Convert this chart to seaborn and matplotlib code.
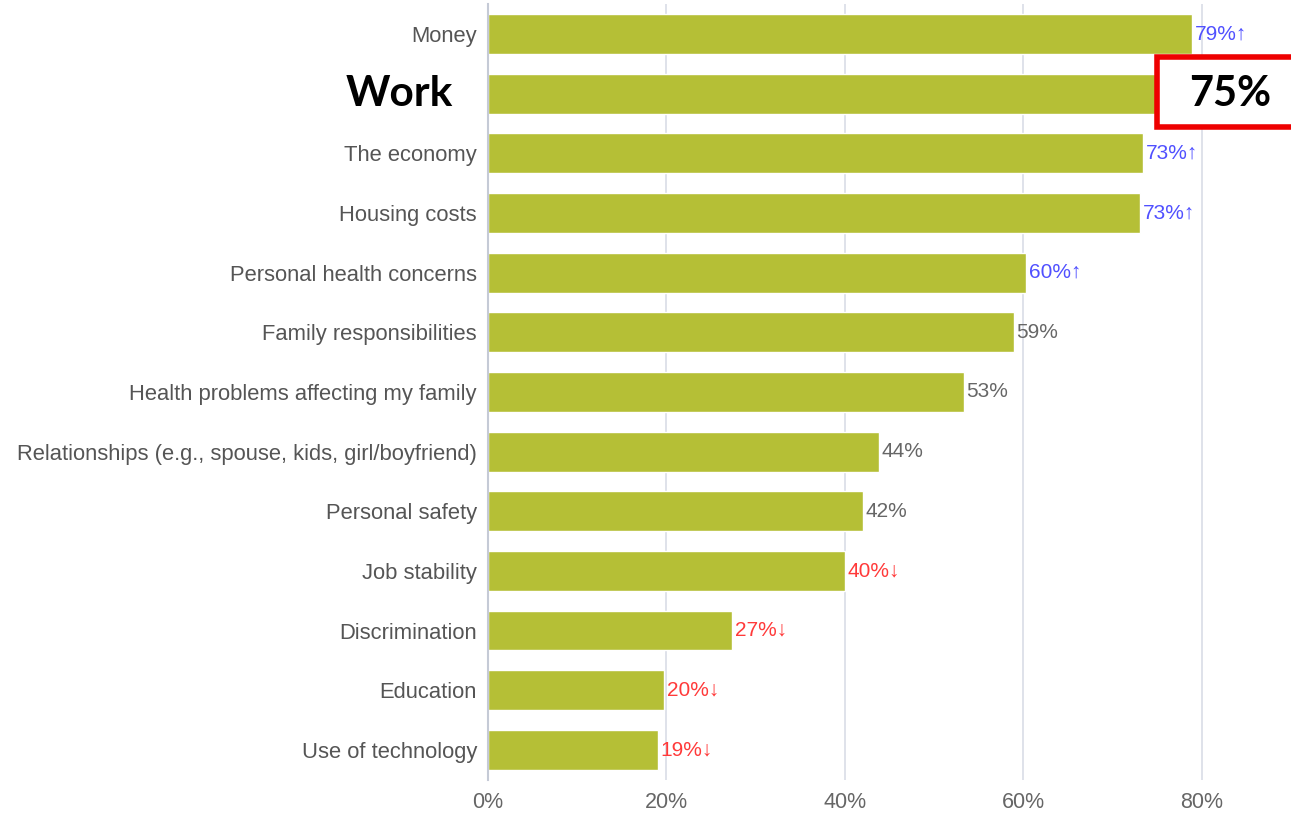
import matplotlib
matplotlib.use("Agg")
import matplotlib.pyplot as plt
import matplotlib.patches as mpatches
import seaborn as sns
import pandas as pd

categories = [
    "Money", "Work", "The economy", "Housing costs", "Personal health concerns",
    "Family responsibilities", "Health problems affecting my family",
    "Relationships (e.g., spouse, kids, girl/boyfriend)", "Personal safety",
    "Job stability", "Discrimination", "Education", "Use of technology",
]
values = [78.9, 75.0, 73.4, 73.1, 60.3, 58.9, 53.3, 43.8, 42.0, 40.0, 27.4, 19.7, 19.0]
labels = ["79%↑", "75%", "73%↑", "73%↑", "60%↑", "59%", "53%", "44%", "42%",
          "40%↓", "27%↓", "20%↓", "19%↓"]
trend = ["up", "hi", "up", "up", "up", "", "", "", "", "down", "down", "down", "down"]
highlight = "Work"

df = pd.DataFrame({"category": categories, "value": values})

sns.set_theme(style="white")
plt.rcParams["font.family"] = ["Liberation Sans", "DejaVu Sans"]

fig = plt.figure(figsize=(12.91, 8.13), dpi=100)
ax = fig.add_axes([0.378, 0.041, 0.622, 0.954])

sns.barplot(data=df, x="value", y="category", color="#b5bf36", saturation=1,
            width=0.67, ax=ax)

ax.set_xlim(0, 90)
ax.set_xticks([0, 20, 40, 60, 80])
ax.set_xticklabels([f"{t}%" for t in [0, 20, 40, 60, 80]], color="#666666", fontsize=15.5)
ax.set_xlabel("")
ax.set_ylabel("")
ax.grid(axis="x", color="#dcdfe8", linewidth=1.3)
ax.set_axisbelow(True)
for s in ["top", "right", "bottom"]:
    ax.spines[s].set_visible(False)
ax.spines["left"].set_color("#c5cad6")
ax.spines["left"].set_linewidth(1.5)
ax.tick_params(axis="y", length=0, pad=8)
ax.tick_params(axis="x", length=0, pad=9)

colors = {"up": "#5050ff", "down": "#ff3a3a", "": "#666666"}
for i, lab in enumerate(ax.get_yticklabels()):
    if lab.get_text() == highlight:
        lab.set_visible(False)
        ax.annotate(highlight, xy=(0, i), xytext=(-35, 0),
                    xycoords=("axes fraction", "data"), textcoords="offset pixels",
                    ha="right", va="center", fontsize=30.5, fontweight="bold",
                    color="black", family=["Lato", "DejaVu Sans"])
    else:
        lab.set_color("#555555")
        lab.set_fontsize(15.8)

for i, (v, lab, t) in enumerate(zip(values, labels, trend)):
    if t == "hi":
        rect = mpatches.Rectangle((v, i - 0.61), 20, 1.17, facecolor="white",
                                  edgecolor="#ee0000", linewidth=4,
                                  clip_on=False, zorder=5)
        ax.add_patch(rect)
        ax.text(v + 8.2, i, lab, ha="center", va="center", fontsize=30,
                fontweight="bold", color="black", zorder=6,
                family=["Lato", "DejaVu Sans"])
    else:
        ax.annotate(lab, xy=(v, i), xytext=(3, 0), textcoords="offset pixels",
                    ha="left", va="center", fontsize=15, color=colors[t])

fig.savefig("out.png", dpi=100)
